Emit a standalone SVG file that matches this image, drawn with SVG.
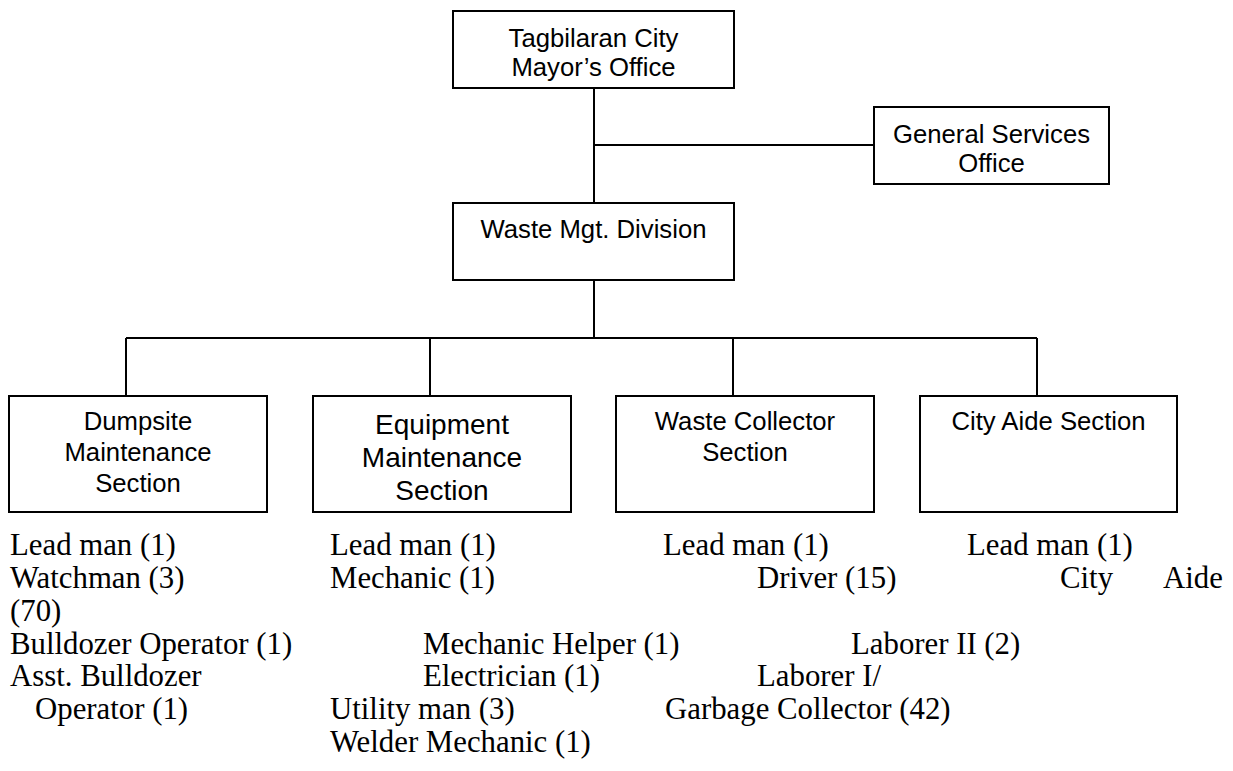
<svg xmlns="http://www.w3.org/2000/svg" width="1233" height="771" viewBox="0 0 1233 771">
<style>
.box{fill:#fff;stroke:#000;stroke-width:2}
.ln{stroke:#000;stroke-width:2;fill:none}
.t{font-family:"Liberation Sans",Arial,sans-serif;font-size:25.7px;fill:#000;text-anchor:middle}
.t2{font-family:"Liberation Sans",Arial,sans-serif;font-size:28px;fill:#000;text-anchor:middle}
.s{font-family:"Liberation Serif","Times New Roman",serif;font-size:30.8px;fill:#000}
</style>
<rect width="1233" height="771" fill="#fff"/>
<g id="connectors">
<path class="ln" d="M594 88V203M594 145H874M594 280V338M126 338H1037M126 338V396M430 338V396M733 338V396M1037 338V396"/>
</g>
<g id="mayor">
<rect class="box" x="453" y="11" width="281" height="77"/>
<text class="t" x="593.5" y="47">Tagbilaran City</text>
<text class="t" x="593.5" y="76">Mayor’s Office</text>
</g>
<g id="gso">
<rect class="box" x="874" y="107" width="235" height="77"/>
<text class="t" x="991.5" y="143">General Services</text>
<text class="t" x="991.5" y="172">Office</text>
</g>
<g id="waste-mgt">
<rect class="box" x="453" y="203" width="281" height="77"/>
<text class="t" x="593.5" y="238">Waste Mgt. Division</text>
</g>
<g id="dumpsite">
<rect class="box" x="9" y="396" width="258" height="116"/>
<text class="t" x="138" y="430">Dumpsite</text>
<text class="t" x="138" y="461">Maintenance</text>
<text class="t" x="138" y="492">Section</text>
</g>
<g id="equipment">
<rect class="box" x="313" y="396" width="258" height="116"/>
<text class="t2" x="442" y="434">Equipment</text>
<text class="t2" x="442" y="467">Maintenance</text>
<text class="t2" x="442" y="500">Section</text>
</g>
<g id="waste-collector">
<rect class="box" x="616" y="396" width="258" height="116"/>
<text class="t" x="745" y="430">Waste Collector</text>
<text class="t" x="745" y="461">Section</text>
</g>
<g id="city-aide">
<rect class="box" x="920" y="396" width="257" height="116"/>
<text class="t" x="1048.5" y="430">City Aide Section</text>
</g>
<g id="staff">
<text class="s" x="10" y="555">Lead man (1)</text>
<text class="s" x="10" y="588">Watchman (3)</text>
<text class="s" x="10" y="621">(70)</text>
<text class="s" x="10" y="654">Bulldozer Operator (1)</text>
<text class="s" x="10" y="686">Asst. Bulldozer</text>
<text class="s" x="35" y="719">Operator (1)</text>
<text class="s" x="330" y="555">Lead man (1)</text>
<text class="s" x="330" y="588">Mechanic (1)</text>
<text class="s" x="423" y="654">Mechanic Helper (1)</text>
<text class="s" x="423" y="686">Electrician (1)</text>
<text class="s" x="330" y="719">Utility man (3)</text>
<text class="s" x="330" y="752">Welder Mechanic (1)</text>
<text class="s" x="663" y="555">Lead man (1)</text>
<text class="s" x="757" y="588">Driver (15)</text>
<text class="s" x="851" y="654">Laborer II (2)</text>
<text class="s" x="757" y="686">Laborer I/</text>
<text class="s" x="665" y="719">Garbage Collector (42)</text>
<text class="s" x="967" y="555">Lead man (1)</text>
<text class="s" x="1060" y="588">City</text>
<text class="s" x="1163" y="588">Aide</text>
</g>
</svg>
